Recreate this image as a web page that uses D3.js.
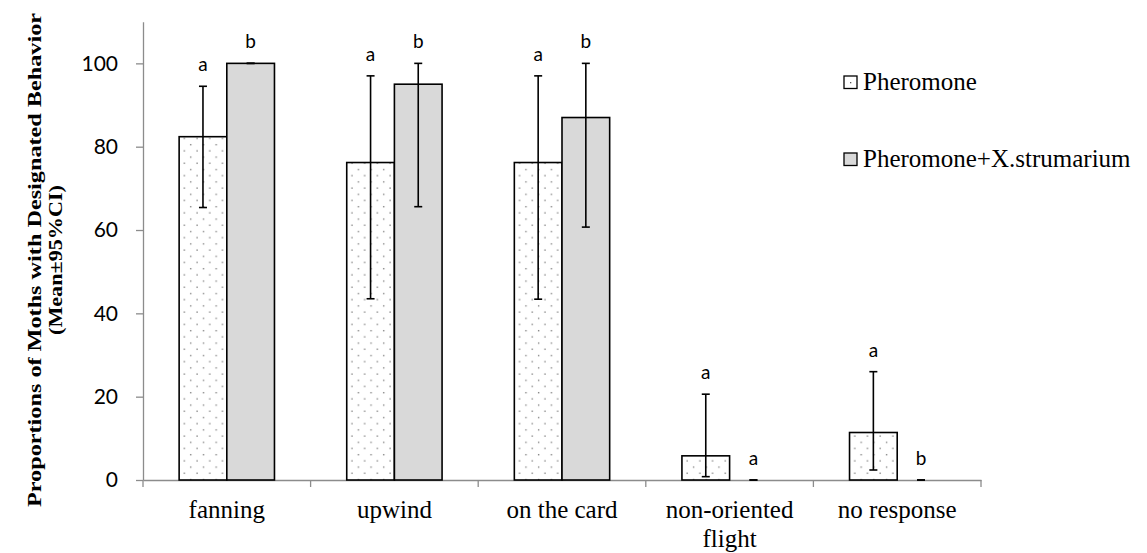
<!DOCTYPE html>
<html>
<head>
<meta charset="utf-8">
<script src="https://cdn.jsdelivr.net/npm/d3@7"></script>
<style>
  body { margin: 0; background: #fff; }
  svg { display: block; }
</style>
</head>
<body>
<svg id="chart" width="1147" height="553"></svg>
<script>
// chart data
const categories = ["fanning", "upwind", "on the card", "non-oriented flight", "no response"];
const seriesNames = ["Pheromone", "Pheromone+X.strumarium"];

const pheromoneMean = [82.4, 76.2, 76.2, 5.8, 11.4];
const pheromoneLow = [65.4, 43.5, 43.4, 0.8, 2.4];
const pheromoneHigh = [94.5, 97.0, 97.0, 20.6, 26.0];
const pheromoneLetters = ["a", "a", "a", "a", "a"];

const mixMean = [100, 95.0, 87.0, 0, 0];
const mixLow = [100, 65.6, 60.7, 0, 0];
const mixHigh = [100, 100, 100, 0, 0];
const mixLetters = ["b", "b", "b", "a", "b"];

const yTicks = [0, 20, 40, 60, 80, 100];

// build rows for drawing
const rows = categories.map((c, i) => ({
  cat: c,
  bars: [
    { s: 0, mean: pheromoneMean[i], lo: pheromoneLow[i], hi: pheromoneHigh[i], letter: pheromoneLetters[i] },
    { s: 1, mean: mixMean[i], lo: mixLow[i], hi: mixHigh[i], letter: mixLetters[i] }
  ]
}));

const svg = d3.select("#chart");
const serif = "'Liberation Serif', 'Times New Roman', serif";
const sans = "Lato, 'Open Sans', sans-serif";

// staggered dot pattern for the pheromone bars
const defs = svg.append("defs");
const pat = defs.append("pattern")
  .attr("id", "dots")
  .attr("patternUnits", "userSpaceOnUse")
  .attr("x", 179)
  .attr("width", 12.7)
  .attr("height", 12.4);
pat.append("rect").attr("width", 12.7).attr("height", 12.4).attr("fill", "#fff");
pat.append("rect").attr("x", 1.4).attr("y", 1.4).attr("width", 1.4).attr("height", 1.4).attr("fill", "#8a8a8a");
pat.append("rect").attr("x", 7.75).attr("y", 7.6).attr("width", 1.4).attr("height", 1.4).attr("fill", "#8a8a8a");

const fills = ["url(#dots)", "#d9d9d9"];

// scales
const x = d3.scaleBand()
  .domain(categories)
  .range([143, 981])
  .paddingInner(0)
  .paddingOuter(0);

const xs = d3.scaleBand()
  .domain([0, 1])
  .range([0, x.bandwidth()])
  .paddingInner(0)
  .paddingOuter(0.758);

const y = d3.scaleLinear()
  .domain([0, 110])
  .range([480, 21.7]);

// y axis
const yAxis = svg.append("g")
  .attr("transform", "translate(143,0)")
  .call(d3.axisLeft(y).tickValues(yTicks).tickSize(7).tickPadding(18).tickSizeOuter(0));
yAxis.select(".domain").attr("stroke", "#8c8c8c").attr("stroke-width", 1.3);
yAxis.selectAll(".tick line").attr("stroke", "#8c8c8c").attr("stroke-width", 1.3);
yAxis.selectAll(".tick text")
  .attr("fill", "#000")
  .style("font-family", sans)
  .style("font-size", "21px");

// x axis
const xAxis = svg.append("g")
  .attr("transform", "translate(0,480)")
  .call(d3.axisBottom(x).tickValues([]).tickSizeOuter(0));
xAxis.select(".domain").attr("stroke", "#8c8c8c").attr("stroke-width", 1.3);

// category tick marks at band edges
xAxis.selectAll("line.edge")
  .data(categories.concat(["_end"]))
  .join("line")
  .attr("class", "edge")
  .attr("x1", (d, i) => x.range()[0] + i * x.step())
  .attr("x2", (d, i) => x.range()[0] + i * x.step())
  .attr("y1", 0)
  .attr("y2", 7)
  .attr("stroke", "#8c8c8c")
  .attr("stroke-width", 1.3);

// category labels (wrapped on explicit lines)
const catLines = {
  "fanning": ["fanning"],
  "upwind": ["upwind"],
  "on the card": ["on the card"],
  "non-oriented flight": ["non-oriented", "flight"],
  "no response": ["no response"]
};
const catText = svg.append("g").selectAll("text")
  .data(categories)
  .join("text")
  .attr("x", d => x(d) + x.bandwidth() / 2)
  .attr("y", 518)
  .attr("text-anchor", "middle")
  .style("font-family", serif)
  .style("font-size", "25px")
  .attr("fill", "#000");
catText.selectAll("tspan")
  .data(d => catLines[d])
  .join("tspan")
  .attr("x", function () { return d3.select(this.parentNode).attr("x"); })
  .attr("dy", (d, i) => i === 0 ? 0 : 29)
  .text(d => d);

// bars
const groups = svg.append("g").selectAll("g")
  .data(rows)
  .join("g")
  .attr("transform", d => `translate(${x(d.cat)},0)`);

groups.selectAll("rect")
  .data(d => d.bars)
  .join("rect")
  .attr("x", d => xs(d.s))
  .attr("y", d => y(d.mean))
  .attr("width", xs.bandwidth())
  .attr("height", d => y(0) - y(d.mean))
  .attr("fill", d => fills[d.s])
  .attr("stroke", "#000")
  .attr("stroke-width", 1.6);

// error bars
const cap = 4;
const err = groups.selectAll("g.err")
  .data(d => d.bars)
  .join("g")
  .attr("class", "err")
  .attr("stroke", "#000")
  .attr("stroke-width", 1.6);
err.append("line")
  .attr("x1", d => xs(d.s) + xs.bandwidth() / 2)
  .attr("x2", d => xs(d.s) + xs.bandwidth() / 2)
  .attr("y1", d => y(d.lo))
  .attr("y2", d => y(d.hi));
err.append("line")
  .attr("x1", d => xs(d.s) + xs.bandwidth() / 2 - cap)
  .attr("x2", d => xs(d.s) + xs.bandwidth() / 2 + cap)
  .attr("y1", d => y(d.hi))
  .attr("y2", d => y(d.hi));
err.append("line")
  .attr("x1", d => xs(d.s) + xs.bandwidth() / 2 - cap)
  .attr("x2", d => xs(d.s) + xs.bandwidth() / 2 + cap)
  .attr("y1", d => y(d.lo))
  .attr("y2", d => y(d.lo));

// significance letters
groups.selectAll("text.letter")
  .data(d => d.bars)
  .join("text")
  .attr("class", "letter")
  .attr("x", d => xs(d.s) + xs.bandwidth() / 2)
  .attr("y", d => y(Math.max(d.hi, d.mean)) - 15)
  .attr("text-anchor", "middle")
  .style("font-family", sans)
  .style("font-size", "19px")
  .attr("fill", "#000")
  .text(d => d.letter);

// y axis title
const title = svg.append("text")
  .attr("transform", "translate(0,260) rotate(-90)")
  .attr("text-anchor", "middle")
  .style("font-family", serif)
  .style("font-weight", "bold")
  .style("font-size", "19px")
  .attr("fill", "#000");
title.append("tspan")
  .attr("x", 0).attr("y", 41)
  .attr("textLength", 494).attr("lengthAdjust", "spacingAndGlyphs")
  .text("Proportions of Moths with  Designated Behavior");
title.append("tspan")
  .attr("x", 0).attr("y", 62)
  .attr("textLength", 150).attr("lengthAdjust", "spacingAndGlyphs")
  .text("(Mean±95%CI)");

// legend
const legend = svg.append("g").selectAll("g")
  .data(seriesNames)
  .join("g")
  .attr("transform", (d, i) => `translate(844,${76 + i * 77})`);
legend.append("rect")
  .attr("width", 13)
  .attr("height", 12.5)
  .attr("fill", (d, i) => i === 0 ? "#fff" : fills[i])
  .attr("stroke", "#000")
  .attr("stroke-width", 1.3);
legend.filter((d, i) => i === 0).append("rect")
  .attr("x", 6).attr("y", 6)
  .attr("width", 1.3).attr("height", 1.3)
  .attr("fill", "#555");
legend.append("text")
  .attr("x", 19)
  .attr("y", 13.5)
  .style("font-family", serif)
  .style("font-size", "25px")
  .attr("fill", "#000")
  .text(d => d);
</script>
</body>
</html>
